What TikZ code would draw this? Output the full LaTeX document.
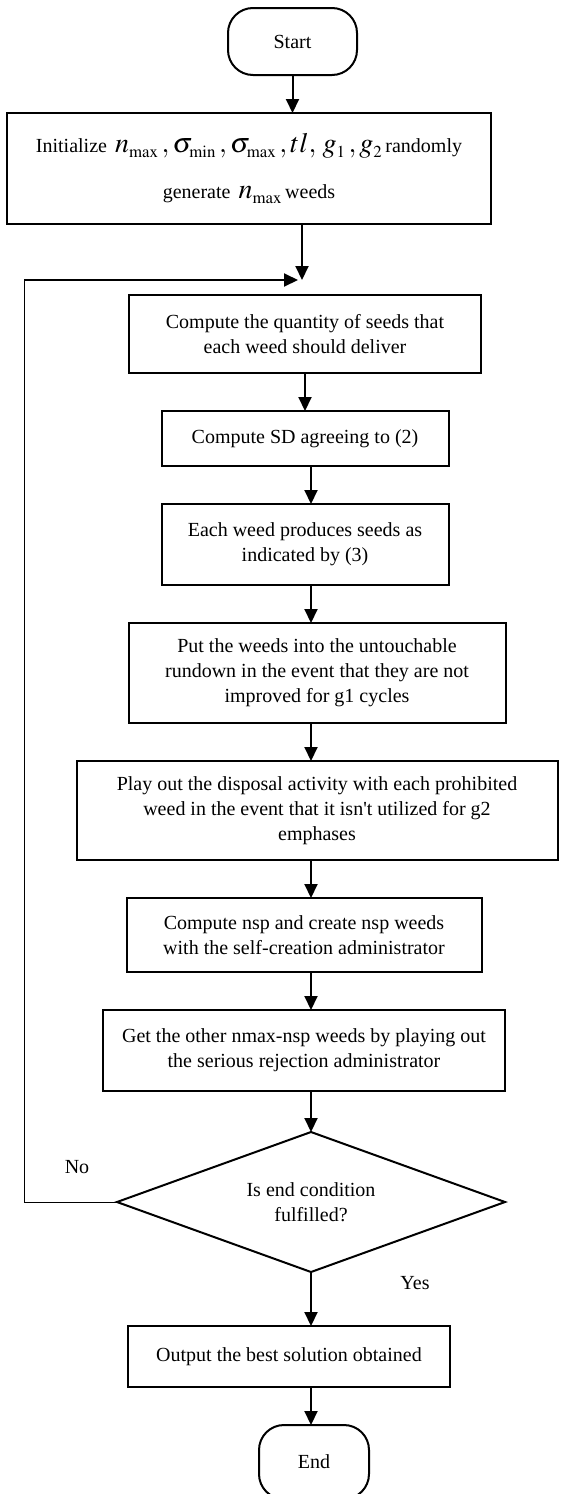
\documentclass[tikz,border=0pt]{standalone}
\usepackage{mathptmx}
\usepackage[no-math]{fontspec}
\setmainfont{Liberation Serif}
\usetikzlibrary{arrows.meta,positioning,shapes.geometric}
\newcommand{\bigmath}[1]{{\fontsize{28}{30}\selectfont$#1$}}
\newcommand{\sub}[1]{_{\scriptscriptstyle #1}\,}

\begin{document}
\begin{tikzpicture}[x=1pt,y=1pt,line width=2pt,>={Triangle[length=14pt,width=13pt]},node distance=38pt,every node/.style={font=\fontsize{20}{25}\selectfont},box/.style={draw,align=center,inner sep=0pt,outer sep=0pt},term/.style={box,rounded corners=25pt},decision/.style={box,diamond,aspect=2.77,minimum width=388pt,minimum height=140pt}]
\useasboundingbox (0,0) rectangle (561,-1494);
\node[term,minimum width=129pt,minimum height=67pt] (start) at (292.5,-41.5) {Start};
\node[box,below=of start,xshift=-43.5pt,minimum width=484pt,minimum height=111pt] (init) {Initialize \bigmath{\,n\sub{\max},\sigma\sub{\min},\sigma\sub{\max},tl,\,g\sub{1},g\sub{2}}randomly\\[21pt]generate \bigmath{\,n\sub{\max}}weeds};
\coordinate[below=56pt of init,xshift=53pt] (join);
\node[box,below=15pt of join,xshift=3pt,minimum width=352pt,minimum height=78pt] (qty) {Compute the quantity of seeds that\\each weed should deliver};
\node[box,below=of qty,minimum width=287pt,minimum height=55pt] (sd) {Compute SD agreeing to (2)};
\node[box,below=of sd,minimum width=287pt,minimum height=81pt] (seeds) {Each weed produces seeds as\\indicated by (3)};
\node[box,below=of seeds,xshift=12pt,minimum width=377pt,minimum height=100pt] (taboo) {Put the weeds into the untouchable\\rundown in the event that they are not\\improved for g1 cycles};
\node[box,below=of taboo,minimum width=481pt,minimum height=99pt] (elim) {Play out the disposal activity with each prohibited\\weed in the event that it isn\textquotesingle t utilized for g2\\emphases};
\node[box,below=of elim,xshift=-13pt,minimum width=355pt,minimum height=74pt] (nsp) {Compute nsp and create nsp weeds\\with the self-creation administrator};
\node[box,below=of nsp,minimum width=402pt,minimum height=81pt] (rest) {Get the other nmax-nsp weeds by playing out\\the serious rejection administrator};
\node[decision,below=41pt of rest,xshift=7pt] (cond) {Is end condition\\fulfilled?};
\node[box,below=54pt of cond,xshift=-22pt,minimum width=322pt,minimum height=61pt] (best) {Output the best solution obtained};
\node[term,below=of best,xshift=25pt,minimum width=110pt,minimum height=74pt] (stop) {End};
\draw[->] (start) -- (start |- init.north);
\draw[->] (init.south -| join) -- (join);
\draw[->] (qty) -- (qty |- sd.north);
\draw[->] (sd.south -| cond) -- (seeds.north -| cond);\draw[->] (seeds.south -| cond) -- (taboo.north -| cond);\draw[->] (taboo.south -| cond) -- (elim.north -| cond);
\draw[->] (elim.south -| cond) -- (nsp.north -| cond);\draw[->] (nsp.south -| cond) -- (rest.north -| cond);\draw[->] (rest.south -| cond) -- (cond.north);
\draw[->] (cond.south) -- (cond.south |- best.north);\draw[->] (best.south -| cond) -- (stop.north -| cond);
% way back when the condition fails
\coordinate[left=93pt of cond.west] (turn);
\draw[line width=1pt] (cond.west) -- (turn) -- (turn |- join);
\draw[->] (turn |- join) -- ([xshift=-4pt]join);
\node (no) at ([shift={(53,35)}]turn) {No};
\node (yes) at ([shift={(104,-11)}]cond.south) {Yes};
\end{tikzpicture}
\end{document}
